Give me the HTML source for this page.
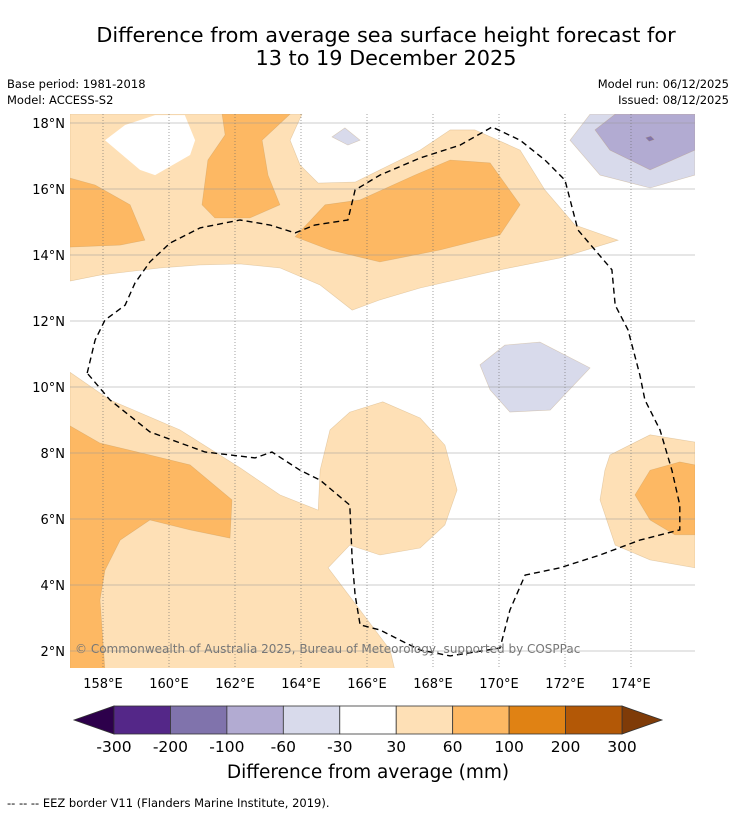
<!DOCTYPE html>
<html><head><meta charset="utf-8"><style>
body{margin:0;background:#fff;font-family:"DejaVu Sans","Liberation Sans",sans-serif}
svg text{font-family:"DejaVu Sans","Liberation Sans",sans-serif}
</style></head><body>
<svg id="chart" width="736" height="816" viewBox="0 0 736 816" xmlns="http://www.w3.org/2000/svg">
<text x="386" y="42" font-size="20.8" text-anchor="middle">Difference from average sea surface height forecast for</text>
<text x="386" y="65" font-size="20.8" text-anchor="middle">13 to 19 December 2025</text>
<text x="7" y="88" font-size="11.5">Base period: 1981-2018</text>
<text x="7" y="104" font-size="11.5">Model: ACCESS-S2</text>
<text x="729" y="88" font-size="11.5" text-anchor="end">Model run: 06/12/2025</text>
<text x="729" y="104" font-size="11.5" text-anchor="end">Issued: 08/12/2025</text>
<defs><clipPath id="mapclip"><rect x="70" y="114" width="625" height="554"/></clipPath></defs>
<g id="map" clip-path="url(#mapclip)"></g>
<g id="grid"></g>
<g id="eez" clip-path="url(#mapclip)"></g>
<g id="axes"></g>
<text x="75" y="653" font-size="12" fill="#777">© Commonwealth of Australia 2025, Bureau of Meteorology, supported by COSPPac</text>
<g id="cbar"></g>
<text x="368" y="778" font-size="18.5" text-anchor="middle">Difference from average (mm)</text>
<text x="7" y="807" font-size="11.5">--  --  -- EEZ border V11 (Flanders Marine Institute, 2019).</text>
</svg>
<script>
const lonTicks=[158,160,162,164,166,168,170,172,174];
const latTicks=[2,4,6,8,10,12,14,16,18];
const levels=[-300,-200,-100,-60,-30,30,60,100,200,300];
const levelColors=['#542788','#8073ac','#b2abd2','#d8daeb','#ffffff','#fee0b6','#fdb863','#e08214','#b35806'];
const lowColor='#2d004b', highColor='#7f3b08';
const lightBandTop=[[157,18.27],[164.03,18.27],[163.67,17.48],[163.97,16.73],[164.52,16.18],[165.64,16.21],[167.61,17.18],[168.52,17.79],[169.27,17.79],[170.64,17.18],[171.39,15.97],[172.30,14.91],[173.61,14.45],[171.85,13.91],[170.03,13.55],[167.61,13.00],[166.39,12.64],[165.55,12.33],[164.58,13.09],[163.36,13.61],[162.15,13.73],[160.94,13.70],[159.73,13.61],[157.91,13.39],[157,13.21]];
const holeTopLeft=[[158.06,17.48],[158.67,17.94],[159.58,18.24],[160.48,18.24],[160.79,17.48],[160.64,17.03],[159.58,16.42],[159.12,16.58]];
const darkA=[[157,16.33],[157.76,16.12],[158.82,15.52],[159.27,14.45],[158.52,14.30],[157,14.24]];
const darkB=[[161.61,18.27],[163.67,18.27],[162.82,17.48],[163.00,16.42],[163.36,15.52],[162.45,15.12],[161.39,15.12],[161.00,15.52],[161.18,16.88],[161.70,17.64]];
const darkC=[[163.82,14.55],[164.73,15.52],[165.79,15.67],[167.45,16.42],[168.52,16.88],[169.73,16.79],[170.64,15.52],[170.03,14.61],[168.21,14.15],[166.39,13.79],[164.88,14.15]];
const lavSmall=[[164.94,17.58],[165.33,17.85],[165.79,17.48],[165.42,17.33]];
const lavTopRight=[[172.15,17.48],[172.76,18.27],[175.94,18.27],[175.94,16.42],[174.58,16.03],[173.06,16.42]];
const lav2TopRight=[[172.91,17.79],[173.52,18.27],[175.94,18.27],[175.94,17.18],[174.58,16.58],[173.36,17.18]];
const lav3Dot=[[174.45,17.55],[174.6,17.6],[174.7,17.5],[174.55,17.45]];
const lavMid=[[169.42,10.67],[170.18,11.27],[171.24,11.36],[172.76,10.58],[171.55,9.30],[170.33,9.24],[169.73,9.91]];
const lightBottomLeft=[[157,10.45],[158.21,9.61],[160.33,8.70],[162.15,7.55],[163.36,6.73],[164.52,6.27],[164.58,7.48],[164.88,8.70],[165.48,9.24],[166.48,9.55],[167.61,9.06],[168.36,8.24],[168.73,6.88],[168.36,5.82],[167.61,5.12],[166.39,4.91],[165.48,5.21],[164.82,4.52],[165.79,3.24],[166.70,2.03],[166.85,1.40],[157,1.40]];
const darkBottomLeft=[[157,8.82],[157.91,8.30],[159.42,7.94],[160.64,7.64],[161.91,6.58],[161.85,5.42],[160.64,5.67],[159.42,5.97],[158.52,5.36],[158.06,4.45],[157.91,3.55],[158.06,1.40],[157,1.40]];
const lightRight=[[173.36,7.94],[174.58,8.55],[175.94,8.33],[175.94,4.52],[174.58,4.76],[173.52,5.21],[173.06,6.58],[173.21,7.48]];
const darkRight=[[174.12,6.73],[174.58,7.48],[175.48,7.73],[175.94,7.64],[175.94,5.52],[175.33,5.52],[174.58,5.97]];
const eezLine=[[157.52,10.42],[157.76,11.42],[158.06,12.03],[158.67,12.48],[158.97,13.15],[159.42,13.79],[160.03,14.36],[160.94,14.82],[162.15,15.06],[163.06,14.91],[163.82,14.67],[164.42,14.91],[165.42,15.06],[165.64,15.97],[166.39,16.42],[167.61,16.94],[168.82,17.33],[169.79,17.88],[170.64,17.48],[171.39,16.88],[172.00,16.27],[172.39,14.76],[172.91,14.15],[173.42,13.55],[173.52,12.48],[173.91,11.73],[174.27,10.36],[174.42,9.61],[174.88,8.70],[175.24,7.48],[175.48,6.42],[175.48,5.67],[174.27,5.36],[173.06,4.91],[171.85,4.52],[170.79,4.30],[170.33,3.24],[170.03,2.09],[169.27,1.97],[168.52,1.85],[167.61,2.03],[167.00,2.33],[166.39,2.64],[165.79,2.79],[165.64,3.70],[165.55,4.76],[165.48,6.42],[164.58,7.18],[163.97,7.48],[163.12,8.03],[162.61,7.85],[161.09,8.03],[159.42,8.64],[158.21,9.61],[157.52,10.42]];

const NS='http://www.w3.org/2000/svg';
const X0=70,DEG=33,Y18=123;
function xScale(lon){return X0+(lon-157)*DEG;}
function yScale(lat){return Y18+(18-lat)*DEG;}
function mk(tag,attrs,parent){const e=document.createElementNS(NS,tag);for(const k in attrs)e.setAttribute(k,attrs[k]);parent.appendChild(e);return e;}
function pts(arr){return arr.map(p=>xScale(p[0]).toFixed(1)+','+yScale(p[1]).toFixed(1)).join(' ');}
const map=document.getElementById('map');
const regions=[
 ['light-band-north',lightBandTop,5],['white-hole-northwest',holeTopLeft,4],
 ['orange-region-west',darkA,6],['orange-region-north',darkB,6],['orange-region-central',darkC,6],
 ['lavender-small',lavSmall,3],['lavender-northeast',lavTopRight,3],['purple-northeast',lav2TopRight,2],['purple-dot-northeast',lav3Dot,1],
 ['lavender-central',lavMid,3],
 ['light-region-southwest',lightBottomLeft,5],['orange-region-southwest',darkBottomLeft,6],
 ['light-region-east',lightRight,5],['orange-region-east',darkRight,6]];
regions.forEach(r=>{
 const p=mk('polygon',{points:pts(r[1]),fill:levelColors[r[2]],stroke:r[2]===4?'none':'rgba(180,140,80,0.35)','stroke-width':0.6},map);
 
 
});
const grid=document.getElementById('grid');
lonTicks.forEach(l=>{
 const ln=mk('line',{x1:xScale(l),x2:xScale(l),y1:114,y2:668,stroke:'#666','stroke-width':0.6,'stroke-dasharray':'1,2'},grid);
 
 
});
latTicks.forEach(l=>{
 const ln=mk('line',{x1:70,x2:695,y1:yScale(l),y2:yScale(l),stroke:'#999','stroke-width':0.5},grid);
 
 
});
const eez=document.getElementById('eez');
const pl=mk('polyline',{points:pts(eezLine),fill:'none',stroke:'#000','stroke-width':1.4,'stroke-dasharray':'6,4'},eez);


const axes=document.getElementById('axes');
lonTicks.forEach(l=>{
 const t=mk('text',{x:xScale(l),y:688,'font-size':13,'text-anchor':'middle'},axes);
 t.textContent=l+'°E';
 
 
});
latTicks.forEach(l=>{
 const t=mk('text',{x:65,y:yScale(l)+5,'font-size':13,'text-anchor':'end'},axes);
 t.textContent=l+'°N';
 
 
});
const cb=document.getElementById('cbar');
const cbL=114,cbR=622,cbT=706,cbB=734;
const w=(cbR-cbL)/levelColors.length;
function cbX(i){return cbL+i*w;}
const lt=mk('polygon',{points:`74,720 ${cbL},${cbT} ${cbL},${cbB}`,fill:lowColor,stroke:'#333','stroke-width':0.8},cb);


const ht=mk('polygon',{points:`662,720 ${cbR},${cbT} ${cbR},${cbB}`,fill:highColor,stroke:'#333','stroke-width':0.8},cb);


levelColors.forEach((c,i)=>{
 const r=mk('rect',{x:cbX(i),y:cbT,width:w,height:cbB-cbT,fill:c,stroke:'#333','stroke-width':0.8},cb);
 
 
});
levels.forEach((v,i)=>{
 const t=mk('text',{x:cbX(i),y:752,'font-size':15.5,'text-anchor':'middle'},cb);
 t.textContent=v;
 
 
});
</script>
</body></html>
